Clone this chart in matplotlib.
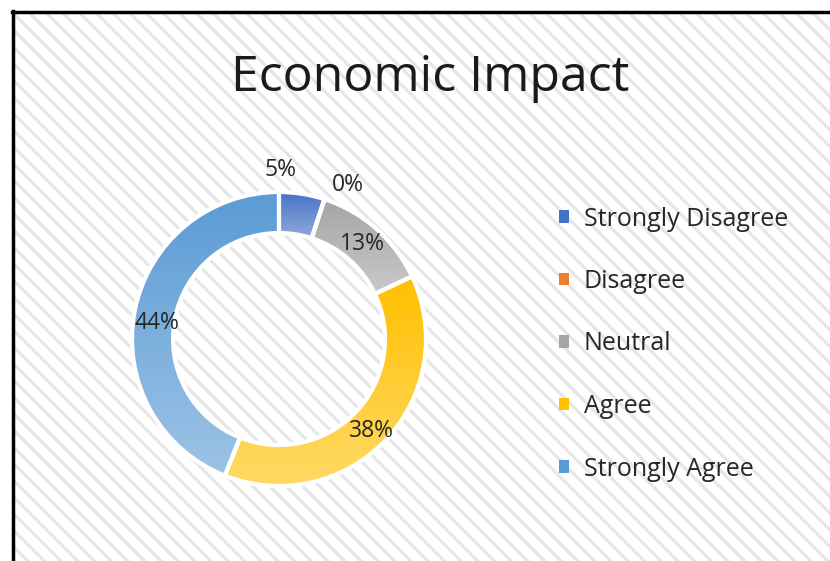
import numpy as np
import matplotlib
matplotlib.use("Agg")
import matplotlib.pyplot as plt
from matplotlib.patches import Rectangle, Patch
from matplotlib.lines import Line2D
from matplotlib.colors import to_rgb

categories = ["Strongly Disagree", "Disagree", "Neutral", "Agree", "Strongly Agree"]
values = [5, 0, 13, 38, 44]
pct_labels = ["5%", "0%", "13%", "38%", "44%"]
colors = ["#4472C4", "#ED7D31", "#A5A5A5", "#FFC000", "#5B9BD5"]
title = "Economic Impact"

plt.rcParams['font.family'] = ['Open Sans', 'DejaVu Sans']
plt.rcParams['hatch.linewidth'] = 2.3

W, H = 830, 561
fig = plt.figure(figsize=(W / 100, H / 100), dpi=100)
fig.patch.set_facecolor("white")

# hatched chart area with black border on left/top
bg = Rectangle((13 / W, -0.1), 1.2, 1 - 12 / H + 0.1, transform=fig.transFigure,
               facecolor="white", edgecolor="#e6e6e6", hatch="\\\\", linewidth=0,
               zorder=-5)
fig.patches.append(bg)
fig.lines.append(Line2D([13 / W, 13 / W], [0, 1 - 11 / H], transform=fig.transFigure,
                        color="black", linewidth=2.5, zorder=-4))
fig.lines.append(Line2D([12 / W, 1], [1 - 12 / H, 1 - 12 / H], transform=fig.transFigure,
                        color="black", linewidth=2.5, zorder=-4))

# donut axes in pixel units
cx, cy, R, ring = 279, 339, 147, 41
box = 200
ax = fig.add_axes([(cx - box) / W, (H - cy - box) / H, 2 * box / W, 2 * box / H])
ax.patch.set_alpha(0)

wedges, _ = ax.pie(values, colors=colors, radius=R, startangle=90, counterclock=False,
                   wedgeprops=dict(width=ring, edgecolor="white", linewidth=3))

# vertical gradient fill per slice (darker top, lighter bottom)
for w, c in zip(wedges, colors):
    ext = w.get_path().get_extents()
    if ext.height <= 0 or ext.width <= 0:
        continue
    top = np.array(to_rgb(c))
    bot = top + (1 - top) * 0.4
    t = np.linspace(0, 1, 64)[:, None, None]
    grad = top * (1 - t) + bot * t
    im = ax.imshow(grad, extent=[ext.x0, ext.x1, ext.y0, ext.y1], origin="upper",
                   aspect="auto", zorder=1)
    im.set_clip_path(w)
    w.set_facecolor("none")
    w.set_zorder(2)
ax.set_xlim(-box, box)
ax.set_ylim(-box, box)
ax.set_aspect("equal")
ax.axis("off")

# data labels at ring centre; some nudged as in the original
nudge = {0: (-18, 44), 1: (30, 34), 3: (0, -5), 4: (2, -8)}
for i, w in enumerate(wedges):
    ang = np.deg2rad((w.theta1 + w.theta2) / 2)
    r = R - ring / 2
    x, y = r * np.cos(ang), r * np.sin(ang)
    dx, dy = nudge.get(i, (0, 0))
    ax.text(x + dx, y + dy, pct_labels[i], ha="center", va="center",
            fontsize=16.5, color="#262626", zorder=3)

fig.text(430 / W, 1 - 78 / H, title, ha="center", va="center", fontsize=36, color="#1a1a1a")

handles = [Patch(facecolor=c, edgecolor="none") for c in colors]
fig.legend(handles, categories, loc="upper left", bbox_to_anchor=(536 / W, 1 - 184 / H),
           frameon=False, fontsize=18, labelspacing=1.5, handlelength=0.4,
           handleheight=0.4, handletextpad=0.6, labelcolor="#262626")

fig.savefig("out.png", dpi=100)
